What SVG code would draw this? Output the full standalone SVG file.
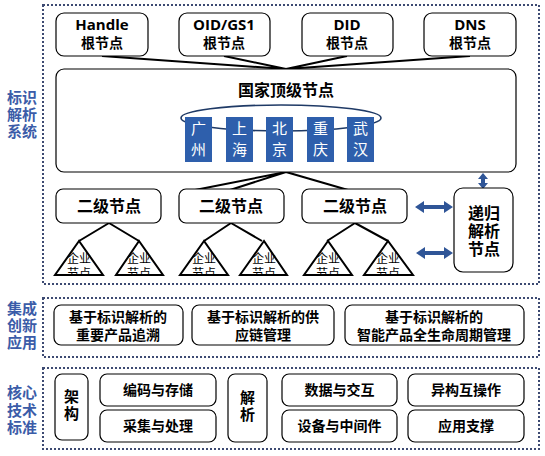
<svg xmlns="http://www.w3.org/2000/svg" width="545" height="456" viewBox="0 0 545 456">
<defs>
<style>
.frame{fill:none;stroke:#3d4a72;stroke-width:2;stroke-dasharray:2 2}
.box{fill:#fff;stroke:#000;stroke-width:1.2}
.city{fill:#2e5fac}
.ln{stroke:#000;stroke-width:2;fill:none}
.tri{fill:#fff;stroke:#000;stroke-width:2;stroke-linejoin:miter}
.t{font-family:"Noto Sans CJK SC","Noto Sans",sans-serif;font-weight:bold;text-anchor:middle;fill:#000}
.en{font-family:"Open Sans","Noto Sans CJK SC",sans-serif;font-weight:bold;text-anchor:middle;fill:#000;font-size:15px}
.side{font-family:"Noto Sans CJK SC",sans-serif;font-weight:bold;text-anchor:middle;fill:#3b5ca8;font-size:15px}
.ct{font-family:"Noto Sans CJK SC",sans-serif;font-weight:normal;text-anchor:middle;fill:#fff;font-size:15px}
.sm{font-family:"Noto Sans CJK SC",sans-serif;font-weight:normal;text-anchor:middle;fill:#000;font-size:12px}
.arr{fill:#2f5597}
</style>
<clipPath id="triclip"><rect x="0" y="0" width="545" height="275"/></clipPath>
</defs>
<rect x="0" y="0" width="545" height="456" fill="#fff"/>

<g id="frames">
<rect class="frame" x="43" y="5" width="496" height="279"/>
<rect class="frame" x="43" y="298" width="496" height="59"/>
<rect class="frame" x="43" y="368" width="496" height="81"/>
</g>

<g id="side-labels">
<text class="side" x="22" y="103">标识</text>
<text class="side" x="22" y="120">解析</text>
<text class="side" x="22" y="137">系统</text>
<text class="side" x="22" y="314">集成</text>
<text class="side" x="22" y="331">创新</text>
<text class="side" x="22" y="348">应用</text>
<text class="side" x="22" y="398">核心</text>
<text class="side" x="22" y="416">技术</text>
<text class="side" x="22" y="433">标准</text>
</g>

<g id="connectors">
<path class="ln" d="M102 56 L286 69 M224 56 L286 69 M347 56 L286 69 M470 56 L286 69"/>
<path class="ln" d="M286 172 L195 190 M286 172 L230 190 M286 172 L348 190"/>
<path class="ln" d="M109 223 L79 241 M109 223 L139 241"/>
<path class="ln" d="M231 223 L204 241 M231 223 L262 241"/>
<path class="ln" d="M355 223 L327 241 M355 223 L388 241"/>
</g>

<g id="arrows">
<path class="arr" d="M415 207 L424 201 L424 205 L444 205 L444 201 L453 207 L444 213 L444 209 L424 209 L424 213 Z"/>
<path class="arr" d="M416 253 L425 247 L425 251 L444 251 L444 247 L453 253 L444 259 L444 255 L425 255 L425 259 Z"/>
<path class="arr" d="M483 173 L488 179 L485 179 L485 183 L488 183 L483 189 L478 183 L481 183 L481 179 L478 179 Z"/>
</g>

<g id="root-handle"><rect class="box" x="56" y="13" width="92" height="43" rx="8"/><text class="en" x="102" y="30">Handle</text><text class="t" x="102" y="48" font-size="14">根节点</text></g>
<g id="root-oid"><rect class="box" x="179" y="13" width="91" height="43" rx="8"/><text class="en" x="224" y="30">OID/GS1</text><text class="t" x="224" y="48" font-size="14">根节点</text></g>
<g id="root-did"><rect class="box" x="302" y="13" width="91" height="43" rx="8"/><text class="en" x="347" y="30">DID</text><text class="t" x="347" y="48" font-size="14">根节点</text></g>
<g id="root-dns"><rect class="box" x="424" y="13" width="92" height="43" rx="8"/><text class="en" x="470" y="30">DNS</text><text class="t" x="470" y="48" font-size="14">根节点</text></g>

<g id="national">
<rect class="box" x="56" y="69" width="460" height="103" rx="8"/>
<text class="t" x="286" y="96" font-size="16">国家顶级节点</text>
<ellipse cx="281" cy="118" rx="100" ry="13" fill="none" stroke="#1f3a66" stroke-width="1.6"/>
<rect class="city" x="185" y="117" width="27" height="45"/>
<rect class="city" x="226" y="117" width="27" height="45"/>
<rect class="city" x="266" y="117" width="27" height="45"/>
<rect class="city" x="307" y="117" width="27" height="45"/>
<rect class="city" x="347" y="117" width="27" height="45"/>
<text class="ct" x="198.5" y="134">广</text><text class="ct" x="198.5" y="155">州</text>
<text class="ct" x="239.5" y="134">上</text><text class="ct" x="239.5" y="155">海</text>
<text class="ct" x="279.5" y="134">北</text><text class="ct" x="279.5" y="155">京</text>
<text class="ct" x="320.5" y="134">重</text><text class="ct" x="320.5" y="155">庆</text>
<text class="ct" x="360.5" y="134">武</text><text class="ct" x="360.5" y="155">汉</text>
</g>

<g id="level2-1"><rect class="box" x="56" y="189" width="105" height="34" rx="7"/><text class="t" x="109" y="212" font-size="16">二级节点</text></g>
<g id="level2-2"><rect class="box" x="179" y="189" width="105" height="34" rx="7"/><text class="t" x="231" y="212" font-size="16">二级节点</text></g>
<g id="level2-3"><rect class="box" x="302" y="189" width="105" height="34" rx="7"/><text class="t" x="355" y="212" font-size="16">二级节点</text></g>

<g id="enterprise-nodes">
<path class="tri" d="M79 241 L55 275 L103 275 Z"/>
<path class="tri" d="M139 241 L116 275 L163 275 Z"/>
<path class="tri" d="M204 241 L180 275 L228 275 Z"/>
<path class="tri" d="M264 241 L240 275 L287 275 Z"/>
<path class="tri" d="M328 241 L304 275 L352 275 Z"/>
<path class="tri" d="M388 241 L364 275 L413 275 Z"/>
<g clip-path="url(#triclip)">
<text class="sm" x="79" y="263">企业</text><text class="sm" x="79" y="278">节点</text>
<text class="sm" x="139" y="263">企业</text><text class="sm" x="139" y="278">节点</text>
<text class="sm" x="204" y="263">企业</text><text class="sm" x="204" y="278">节点</text>
<text class="sm" x="264" y="263">企业</text><text class="sm" x="264" y="278">节点</text>
<text class="sm" x="328" y="263">企业</text><text class="sm" x="328" y="278">节点</text>
<text class="sm" x="388" y="263">企业</text><text class="sm" x="388" y="278">节点</text>
</g>
</g>

<g id="recursive"><rect class="box" x="454" y="188" width="59" height="84" rx="9"/><text class="t" x="484" y="219" font-size="16">递归</text><text class="t" x="484" y="237" font-size="16">解析</text><text class="t" x="484" y="255" font-size="16">节点</text></g>

<g id="app-1"><rect class="box" x="54" y="305" width="129" height="40" rx="7"/><text class="t" x="118" y="322" font-size="14">基于标识解析的</text><text class="t" x="118" y="340" font-size="14">重要产品追溯</text></g>
<g id="app-2"><rect class="box" x="192" y="305" width="142" height="40" rx="7"/><text class="t" x="263" y="322" font-size="14">基于标识解析的供</text><text class="t" x="263" y="340" font-size="14">应链管理</text></g>
<g id="app-3"><rect class="box" x="345" y="305" width="179" height="40" rx="7"/><text class="t" x="434" y="322" font-size="14">基于标识解析的</text><text class="t" x="434" y="340" font-size="14">智能产品全生命周期管理</text></g>

<g id="std-jiagou"><rect class="box" x="55" y="374" width="33" height="66" rx="7"/><text class="t" x="71.5" y="402" font-size="15">架</text><text class="t" x="71.5" y="419" font-size="15">构</text></g>
<g id="std-bianma"><rect class="box" x="100" y="374" width="116" height="32" rx="7"/><text class="t" x="158" y="395" font-size="14">编码与存储</text></g>
<g id="std-caiji"><rect class="box" x="100" y="410" width="116" height="32" rx="7"/><text class="t" x="158" y="431" font-size="14">采集与处理</text></g>
<g id="std-jiexi"><rect class="box" x="228" y="374" width="39" height="68" rx="7"/><text class="t" x="247.5" y="403" font-size="15">解</text><text class="t" x="247.5" y="420" font-size="15">析</text></g>
<g id="std-shuju"><rect class="box" x="282" y="374" width="115" height="32" rx="7"/><text class="t" x="339.5" y="395" font-size="14">数据与交互</text></g>
<g id="std-shebei"><rect class="box" x="282" y="410" width="115" height="32" rx="7"/><text class="t" x="339.5" y="431" font-size="14">设备与中间件</text></g>
<g id="std-yigou"><rect class="box" x="408" y="374" width="116" height="32" rx="7"/><text class="t" x="466" y="395" font-size="14">异构互操作</text></g>
<g id="std-yingyong"><rect class="box" x="408" y="410" width="116" height="32" rx="7"/><text class="t" x="466" y="431" font-size="14">应用支撑</text></g>
</svg>
